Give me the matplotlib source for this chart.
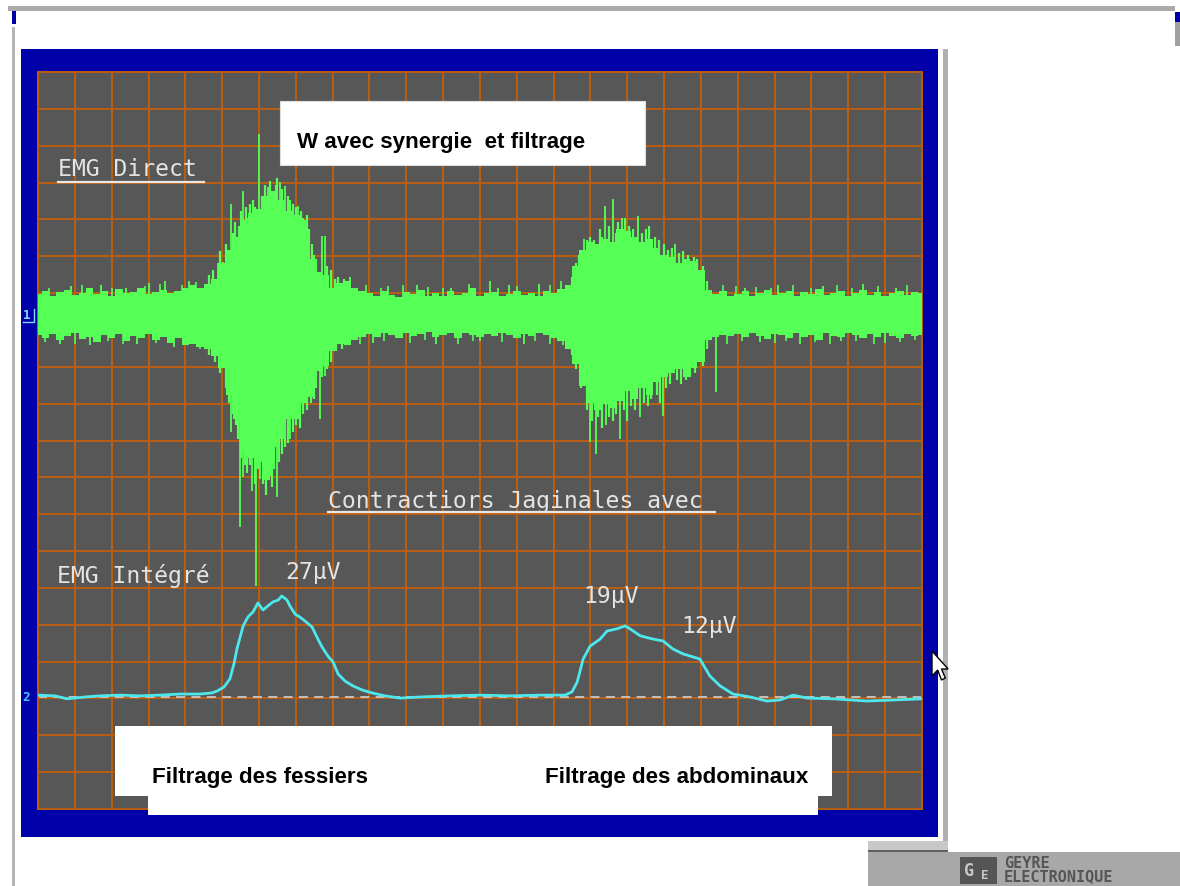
import matplotlib
matplotlib.use("Agg")
import matplotlib.pyplot as plt
from matplotlib.patches import Rectangle, Polygon
import numpy as np

# ---------------- data ----------------
# time axis in screen divisions (24 divisions across)
t_env = [round(0.2 * i, 1) for i in range(121)]

# EMG direct (channel 1): upper / lower envelope, in divisions from the trace centre
emg_upper = [0.55, 0.62, 0.50, 0.60, 0.66, 0.52, 0.58, 0.70, 0.54, 0.63, 0.50, 0.67,
             0.57, 0.60, 0.72, 0.55, 0.61, 0.66, 0.58, 0.63, 0.70, 0.78,
             0.72, 0.82, 0.95, 1.40, 1.75, 2.10, 2.55, 2.75, 2.85, 3.20, 3.35, 3.10,
             2.80, 2.70, 2.55, 1.50, 1.15, 1.05, 0.70, 0.85, 0.90, 0.70, 0.62,
             0.58, 0.50, 0.62, 0.53, 0.47, 0.60, 0.55, 0.66, 0.50, 0.57, 0.48, 0.63,
             0.52, 0.58, 0.70, 0.50, 0.56, 0.61, 0.49, 0.55, 0.64, 0.52, 0.58, 0.50,
             0.62, 0.56, 0.68,
             0.80, 1.30, 1.75, 1.95, 1.90, 2.05, 1.95, 2.30, 2.25, 2.10, 1.95, 2.05,
             1.80, 1.60, 1.55, 1.40, 1.50, 1.45, 1.20, 0.65, 0.55, 0.62, 0.50,
             0.55, 0.62, 0.50, 0.58, 0.66, 0.52, 0.57, 0.63, 0.49, 0.60, 0.55, 0.68,
             0.51, 0.58, 0.62, 0.50, 0.57, 0.65, 0.53, 0.60, 0.48, 0.58, 0.63, 0.52,
             0.60, 0.56]
emg_lower = [-0.58, -0.65, -0.55, -0.70, -0.60, -0.52, -0.68, -0.62, -0.75, -0.57, -0.64,
             -0.55, -0.72, -0.60, -0.66, -0.54, -0.70, -0.62, -0.78, -0.65, -0.85, -0.80,
             -0.90, -0.95, -1.15, -1.45, -2.20, -2.85, -3.70, -3.90, -4.00, -4.50, -3.60,
             -3.40, -2.85, -2.85, -2.40, -2.25, -1.55, -1.40, -1.00, -0.80, -0.85, -0.70,
             -0.62,
             -0.55, -0.62, -0.50, -0.58, -0.66, -0.52, -0.60, -0.55, -0.48, -0.63, -0.57,
             -0.52, -0.65, -0.50, -0.58, -0.62, -0.54, -0.60, -0.50, -0.57, -0.64, -0.55,
             -0.60, -0.52, -0.58, -0.66, -0.72,
             -0.95, -1.35, -1.95, -2.40, -2.60, -2.45, -2.55, -2.35, -2.10, -2.30, -2.00,
             -2.20, -1.85, -1.70, -1.60, -1.50, -1.70, -1.45, -1.30, -0.70, -0.62, -0.58,
             -0.60,
             -0.55, -0.62, -0.50, -0.60, -0.67, -0.53, -0.58, -0.64, -0.50, -0.61, -0.56,
             -0.70, -0.52, -0.59, -0.63, -0.51, -0.58, -0.66, -0.54, -0.61, -0.50, -0.59,
             -0.64, -0.53, -0.60, -0.57]

# large isolated spikes of the raw EMG (time in div, excursion in div)
spike_t = [0.9, 1.7, 2.4, 3.0, 3.45, 4.1, 4.89, 5.02, 5.24, 5.57, 6.00, 6.25, 6.35, 6.57,
           6.71, 7.06, 7.71, 7.79, 8.47, 9.5, 10.3, 11.2, 12.27, 12.8, 13.6, 14.83, 15.40,
           15.61, 15.86, 16.29, 17.30, 19.2, 20.1, 21.3, 22.4, 23.3,
           0.6, 1.4, 2.7, 3.7, 5.24, 5.48, 5.57, 5.81, 5.92, 6.03, 6.22, 6.49, 6.84, 7.66,
           7.79, 9.1, 10.8, 12.0, 13.2, 14.99, 15.15, 15.42, 15.80, 16.35, 16.97, 18.41,
           19.6, 20.7, 21.8, 23.0]
spike_amp = [0.75, 0.80, 0.72, 0.85, 0.90, 0.90, 1.40, 1.41, 2.98, 3.34, 4.88, 3.45, 3.30,
             3.58, 3.47, 2.93, 2.11, 2.11, 1.00, 0.75, 0.80, 0.72, 0.90, 0.78, 0.82, 2.04,
             2.93, 3.12, 2.60, 2.66, 1.90, 0.72, 0.80, 0.75, 0.82, 0.70,
             -0.82, -0.85, -0.80, -0.90, -3.20, -5.78, -4.42, -4.80, -7.38, -4.48, -4.29,
             -4.97, -3.39, -2.85, -1.69, -0.78, -0.80, -0.72, -0.80, -3.47, -3.80, -3.00,
             -3.39, -2.80, -2.77, -2.12, -0.75, -0.82, -0.72, -0.78]

# the hairy edge of the two bursts (time in div, excursion in div)
burst_t = [4.65, 4.75, 4.95, 5.10, 5.15, 5.30, 5.35, 5.45, 5.50, 5.65, 5.70, 5.75, 5.85,
           5.90, 6.08, 6.15, 6.30, 6.45, 6.50, 6.62, 6.78, 6.85, 6.92, 7.00, 7.15, 7.20,
           7.30, 7.35, 7.45, 7.50, 7.55, 7.85, 7.95, 8.05, 8.15, 8.30,
           4.65, 4.80, 4.95, 5.10, 5.18, 5.30, 5.38, 5.42, 5.52, 5.62, 5.68, 5.75, 5.88,
           5.97, 6.10, 6.18, 6.30, 6.35, 6.42, 6.55, 6.62, 6.70, 6.78, 6.92, 7.00, 7.12,
           7.20, 7.30, 7.40, 7.50, 7.55, 7.72, 7.85, 7.95, 8.10, 8.25,
           14.50, 14.60, 14.70, 14.90, 15.00, 15.10, 15.25, 15.30, 15.50, 15.70, 15.75,
           15.95, 16.05, 16.15, 16.40, 16.50, 16.60, 16.75, 16.85, 17.00, 17.10, 17.20,
           17.40, 17.50, 17.65, 17.80, 17.90, 18.05, 18.15,
           14.50, 14.60, 14.75, 14.90, 15.05, 15.20, 15.30, 15.50, 15.60, 15.70, 15.90,
           16.00, 16.10, 16.20, 16.45, 16.55, 16.65, 16.80, 16.90, 17.05, 17.15, 17.35,
           17.45, 17.60, 17.70, 17.85, 18.05, 18.15]
burst_amp = [1.05, 1.20, 1.70, 1.90, 1.60, 2.20, 2.50, 2.40, 2.80, 2.90, 2.60, 3.00, 3.10,
             2.90, 3.20, 3.50, 3.60, 3.50, 3.70, 3.40, 3.20, 3.10, 3.00, 2.90, 2.80, 2.60,
             2.70, 2.30, 1.90, 1.60, 1.50, 1.30, 1.20, 0.95, 1.00, 0.95,
             -1.10, -1.30, -1.60, -2.00, -2.40, -2.70, -3.00, -3.40, -3.90, -4.10, -4.30,
             -4.10, -4.60, -4.20, -4.60, -4.90, -4.40, -4.70, -4.20, -4.00, -3.80, -3.60,
             -3.50, -3.20, -3.00, -3.10, -2.70, -2.60, -2.40, -2.30, -2.00, -1.70, -1.50,
             -1.30, -1.00, -0.95,
             1.00, 1.40, 1.60, 2.00, 2.10, 2.00, 2.30, 2.10, 2.40, 2.20, 2.50, 2.60, 2.40,
             2.30, 2.20, 2.30, 2.40, 2.10, 2.00, 1.90, 1.75, 1.80, 1.65, 1.70, 1.60, 1.55,
             1.50, 1.30, 0.90,
             -1.10, -1.50, -2.00, -2.60, -2.90, -2.80, -3.10, -2.80, -2.90, -2.70, -2.60,
             -2.90, -2.50, -2.60, -2.40, -2.50, -2.30, -2.20, -2.40, -2.00, -1.90, -1.80,
             -1.90, -1.80, -1.70, -1.60, -1.40, -0.95]

# small excursions along the resting baseline (time in div, excursion in div)
rest_t = [0.3, 1.2, 2.0, 2.9, 3.3, 3.9, 4.3, 8.9, 9.3, 9.9, 10.6, 11.0, 11.7, 12.5, 13.0,
          13.9, 14.2, 18.6, 18.95, 19.5, 19.9, 20.5, 21.0, 21.7, 22.1, 22.8, 23.6,
          0.2, 1.0, 1.9, 2.3, 3.2, 4.0, 4.4, 8.75, 9.4, 10.1, 10.5, 11.4, 11.8, 12.6,
          13.5, 13.9, 14.25, 18.7, 19.1, 20.0, 20.3, 21.1, 21.5, 22.2, 22.7, 23.4, 23.8]
rest_amp = [0.72, 0.78, 0.70, 0.76, 0.82, 0.80, 0.88, 0.78, 0.70, 0.80, 0.74, 0.70, 0.82,
            0.72, 0.76, 0.80, 0.90, 0.80, 0.75, 0.74, 0.70, 0.78, 0.72, 0.80, 0.70, 0.76,
            0.80,
            -0.76, -0.80, -0.74, -0.82, -0.78, -0.85, -0.95, -0.80, -0.74, -0.78, -0.70,
            -0.80, -0.72, -0.76, -0.74, -0.80, -0.85, -0.80, -0.74, -0.78, -0.72, -0.76,
            -0.80, -0.74, -0.80, -0.76, -0.70]

# integrated EMG (channel 2), µV (10 µV per division)
int_t = [0.0, 0.46, 0.79, 1.28, 1.68, 2.23, 2.77, 3.31, 3.86, 4.40, 4.72, 4.86, 5.05, 5.21,
         5.32, 5.40, 5.57, 5.70, 5.84, 5.97, 6.11, 6.24, 6.38, 6.52, 6.62, 6.76, 6.84,
         6.98, 7.11, 7.25, 7.44, 7.60, 7.71, 7.87, 8.01, 8.15, 8.34, 8.55, 8.80, 9.07,
         9.42, 9.83, 10.37, 11.19, 12.0, 12.82, 13.63, 14.31, 14.50, 14.64, 14.80, 14.99,
         15.26, 15.45, 15.72, 15.94, 16.07, 16.35, 16.70, 16.97, 17.24, 17.51, 17.97,
         18.24, 18.52, 18.87, 19.33, 19.79, 20.15, 20.50, 20.88, 21.59, 22.51, 23.27, 24.0]
int_uv = [0.5, 0.3, -0.5, 0.0, 0.3, 0.5, 0.3, 0.5, 0.8, 0.8, 1.1, 1.6, 2.7, 4.9,
          9.0, 13.0, 19.3, 21.7, 23.1, 25.5, 23.6, 24.7, 25.8, 26.3, 27.4, 26.3, 24.7,
          22.5, 21.7, 20.6, 19.0, 15.7, 13.6, 11.1, 9.5, 6.2, 4.3, 3.0, 1.9, 1.1,
          0.3, -0.3, 0.0, 0.3, 0.5, 0.3, 0.5, 0.5, 1.4, 4.1, 10.3, 13.8,
          15.7, 17.9, 18.5, 19.3, 18.5, 16.6, 15.7, 15.2, 13.0, 11.7, 10.3,
          5.7, 3.0, 0.8, 0.0, -1.1, -0.8, 0.5, -0.3, -0.5, -1.1, -0.8, -0.5]

peak_labels = ["27µV", "19µV", "12µV"]
title_text = "W avec synergie  et filtrage"
bottom_texts = ["Filtrage des fessiers", "Filtrage des abdominaux"]
logo_text = "GEYRE\nELECTRONIQUE"

# ---------------- layout ----------------
W, H = 1180, 887
fig = plt.figure(figsize=(W / 100, H / 100), dpi=100)
fig.patch.set_facecolor("white")

bg = fig.add_axes([0, 0, 1, 1])
bg.set_xlim(0, W); bg.set_ylim(H, 0); bg.axis("off")

# window chrome
bg.add_patch(Rectangle((8, 7), 1167, 5, color="#aaaaaa", lw=0))
bg.add_patch(Rectangle((12, 12), 4, 13, color="#0000a8", lw=0))
bg.add_patch(Rectangle((12, 28), 3, 859, color="#b4b4b4", lw=0))
bg.add_patch(Rectangle((1175, 13), 5, 10, color="#0000a8", lw=0))
bg.add_patch(Rectangle((1175, 23), 5, 24, color="#a0a0a0", lw=0))
bg.add_patch(Rectangle((21, 50), 917, 788, color="#0000a8", lw=0))
bg.add_patch(Rectangle((943, 50), 5, 803, color="#b0b0b0", lw=0))
bg.add_patch(Rectangle((868, 842), 80, 11, color="#c8c8c8", lw=0))
bg.add_patch(Rectangle((868, 851), 80, 2, color="#606060", lw=0))
bg.add_patch(Rectangle((868, 853), 312, 34, color="#a8a8a8", lw=0))
bg.add_patch(Rectangle((960, 858), 37, 27, color="#555555", lw=0))
bg.text(964, 871, "G", color="#c8c8c8", fontsize=12, fontweight="bold",
        family="DejaVu Sans Mono", va="center")
bg.text(981, 876, "E", color="#c8c8c8", fontsize=9, fontweight="bold",
        family="DejaVu Sans Mono", va="center")
bg.text(1004, 856, logo_text, color="#555555", fontsize=11, family="DejaVu Sans Mono",
        fontweight="bold", va="top", linespacing=0.82)

# oscilloscope screen
x0, y0, x1, y1 = 38, 73, 922, 810
ax = fig.add_axes([x0 / W, (H - y1) / H, (x1 - x0) / W, (y1 - y0) / H])
ax.set_facecolor("#575757")
ax.set_xlim(0, 24); ax.set_ylim(0, 20)
ax.set_xticks(range(25)); ax.set_yticks(range(21))
grid_c = "#bb5e10"
ax.grid(True, color=grid_c, lw=1.4)
ax.tick_params(length=0, labelleft=False, labelbottom=False)
for s in ax.spines.values():
    s.set_color(grid_c); s.set_linewidth(1.4)
ax.set_axisbelow(True)

CH1 = 13.43   # centre of EMG direct trace (div)
CH2 = 3.04    # baseline of integrated EMG (div)
UV_PER_DIV = 10.0

green = "#55ff55"
te = np.array(t_env)
ax.fill_between(te, CH1 + np.array(emg_lower), CH1 + np.array(emg_upper),
                step="mid", color=green, lw=0, zorder=3)
ax.vlines(spike_t, CH1, CH1 + np.array(spike_amp), color=green, lw=1.3, zorder=3)
ax.vlines(burst_t, CH1, CH1 + np.array(burst_amp), color=green, lw=1.6, zorder=3)
ax.vlines(rest_t, CH1, CH1 + np.array(rest_amp), color=green, lw=1.2, zorder=3)

ax.axhline(CH2, color="#c8c8c8", lw=1.3, dashes=(5, 3.5), zorder=2)
ax.plot(int_t, CH2 + np.array(int_uv) / UV_PER_DIV, color="#4de8ee", lw=2.0, zorder=4)

# overlay for boxes and annotations
ov = fig.add_axes([0, 0, 1, 1])
ov.set_xlim(0, W); ov.set_ylim(H, 0); ov.axis("off")
ov.patch.set_alpha(0)

ov.add_patch(Rectangle((280, 102), 365, 64, facecolor="white", edgecolor="#dddddd", lw=0.8))
ov.add_patch(Rectangle((115, 727), 717, 70, facecolor="white", edgecolor="none"))
ov.add_patch(Rectangle((148, 790), 670, 26, facecolor="white", edgecolor="none"))

bold = dict(family="Liberation Sans", fontweight="bold", fontsize=16.1, color="black",
            va="baseline")
ov.text(297, 148, title_text, **bold)
ov.text(152, 783, bottom_texts[0], **bold)
ov.text(545, 783, bottom_texts[1], **bold)

mono = dict(family="DejaVu Sans Mono", fontsize=16.7, color="#e4e4e4", va="baseline")
ov.text(58, 176, "EMG Direct", **mono)
ov.plot([58, 204], [183, 183], color="#e8e8e8", lw=1.6)
ov.text(328, 508, "Contractiors Jaginales avec", **mono)
ov.plot([328, 715], [513, 513], color="#e8e8e8", lw=1.6)
ov.text(57, 583, "EMG Intégré", **mono)
ov.text(285, 579, peak_labels[0], **mono)
ov.text(583, 603, peak_labels[1], **mono)
ov.text(681, 633, peak_labels[2], **mono)

# channel markers
ov.text(23, 316, "1", color="#80d8ff", fontsize=9, family="DejaVu Sans Mono",
        fontweight="bold", va="center")
ov.plot([23, 34, 34], [323, 323, 310], color="#80d8ff", lw=1.0)
ov.text(22, 698, "2", color="#40c8ff", fontsize=9, family="DejaVu Sans Mono",
        fontweight="bold", va="center")

# mouse pointer
cx, cy = 932, 652
arrow = [(0, 0), (0, 25), (6, 19), (10, 29), (14, 27), (10, 18), (17, 18)]
ov.add_patch(Polygon([(cx + a * 0.95, cy + b * 1.0) for a, b in arrow], closed=True,
                     facecolor="white", edgecolor="black", lw=1.0))

fig.savefig("out.png", dpi=100)
